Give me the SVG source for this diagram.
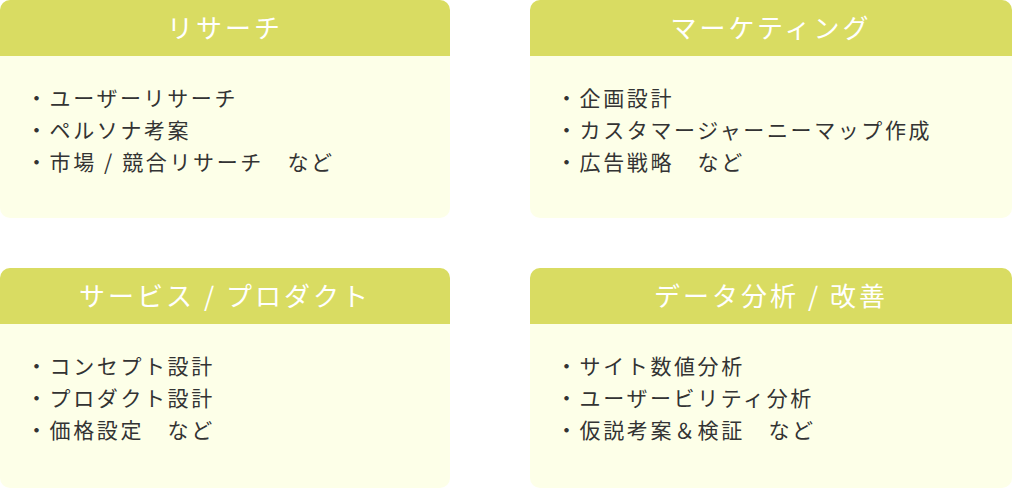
<svg xmlns="http://www.w3.org/2000/svg" width="1012" height="488" viewBox="0 0 1012 488">
<style>
.body{fill:#fdffe8}
.head{fill:#d9dc62}
.t{font-family:"Noto Sans CJK JP",sans-serif;font-size:26px;fill:#fff;text-anchor:middle;letter-spacing:3px}
.b{font-family:"Noto Sans CJK JP",sans-serif;font-size:21px;fill:#333;letter-spacing:2.6px}
</style>
<defs>
<clipPath id="c1"><rect x="0" y="0" width="450" height="218" rx="10"/></clipPath>
<clipPath id="c2"><rect x="530" y="0" width="482" height="218" rx="10"/></clipPath>
<clipPath id="c3"><rect x="0" y="268" width="450" height="220" rx="10"/></clipPath>
<clipPath id="c4"><rect x="530" y="268" width="482" height="220" rx="10"/></clipPath>
</defs>
<g id="research" clip-path="url(#c1)">
<rect class="body" x="0" y="0" width="450" height="218"/>
<rect class="head" x="0" y="0" width="450" height="56"/>
<text class="t" x="225" y="38">リサーチ</text>
<text class="b" x="26" y="106">・ユーザーリサーチ</text>
<text class="b" x="26" y="138">・ペルソナ考案</text>
<text class="b" x="26" y="170">・市場 / 競合リサーチ　など</text>
</g>
<g id="marketing" clip-path="url(#c2)">
<rect class="body" x="530" y="0" width="482" height="218"/>
<rect class="head" x="530" y="0" width="482" height="56"/>
<text class="t" x="771" y="38">マーケティング</text>
<text class="b" x="556" y="106">・企画設計</text>
<text class="b" x="556" y="138">・カスタマージャーニーマップ作成</text>
<text class="b" x="556" y="170">・広告戦略　など</text>
</g>
<g id="service" clip-path="url(#c3)">
<rect class="body" x="0" y="268" width="450" height="220"/>
<rect class="head" x="0" y="268" width="450" height="56"/>
<text class="t" x="225" y="306">サービス / プロダクト</text>
<text class="b" x="26" y="374">・コンセプト設計</text>
<text class="b" x="26" y="406">・プロダクト設計</text>
<text class="b" x="26" y="438">・価格設定　など</text>
</g>
<g id="data" clip-path="url(#c4)">
<rect class="body" x="530" y="268" width="482" height="220"/>
<rect class="head" x="530" y="268" width="482" height="56"/>
<text class="t" x="771" y="306">データ分析 / 改善</text>
<text class="b" x="556" y="374">・サイト数値分析</text>
<text class="b" x="556" y="406">・ユーザービリティ分析</text>
<text class="b" x="556" y="438">・仮説考案＆検証　など</text>
</g>
<g id="connectors"></g>
</svg>
